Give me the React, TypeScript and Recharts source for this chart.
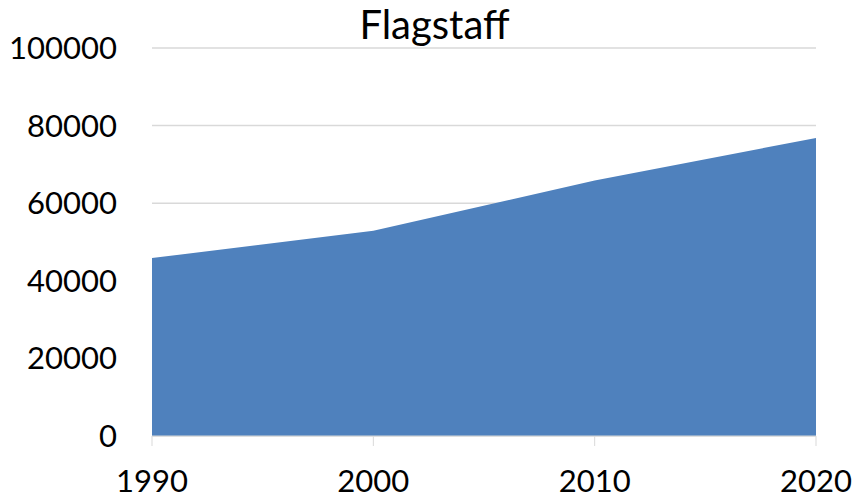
import { AreaChart, Area, XAxis, YAxis, CartesianGrid } from "recharts";

const years = ["1990", "2000", "2010", "2020"];
const population = [45857, 52894, 65870, 76831];
const yTicks = [0, 20000, 40000, 60000, 80000, 100000];

const chartData = years.map((year, i) => ({ year, population: population[i] }));

const FONT = "Lato, 'Open Sans', sans-serif";

export default function App() {
  return (
    <div style={{ position: "fixed", left: 0, top: 0, width: 856, height: 504, background: "#fff", fontFamily: FONT }}>
      <AreaChart width={856} height={504} data={chartData} margin={{ top: 48, right: 40, bottom: 0, left: 0 }}>
        <CartesianGrid vertical={false} stroke="#d9d9d9" strokeWidth={1.5} />
        <XAxis
          dataKey="year"
          height={68}
          stroke="#d9d9d9"
          tickSize={10}
          tickMargin={24}
          tick={{ fill: "#000", fontSize: 31, fontFamily: FONT }}
          interval={0}
        />
        <YAxis
          domain={[0, 100000]}
          ticks={yTicks}
          width={152}
          axisLine={false}
          tickLine={false}
          tickSize={0}
          tickMargin={35}
          tick={{ fill: "#000", fontSize: 31, fontFamily: FONT }}
        />
        <Area
          type="linear"
          dataKey="population"
          stroke="none"
          fill="#4f81bd"
          fillOpacity={1}
          isAnimationActive={false}
        />
      </AreaChart>
      <svg width={856} height={60} style={{ position: "absolute", left: 0, top: 0 }}>
        <text x={434.5} y={39} textAnchor="middle" fontSize={40} fontFamily={FONT} fill="#000">
          Flagstaff
        </text>
      </svg>
    </div>
  );
}
